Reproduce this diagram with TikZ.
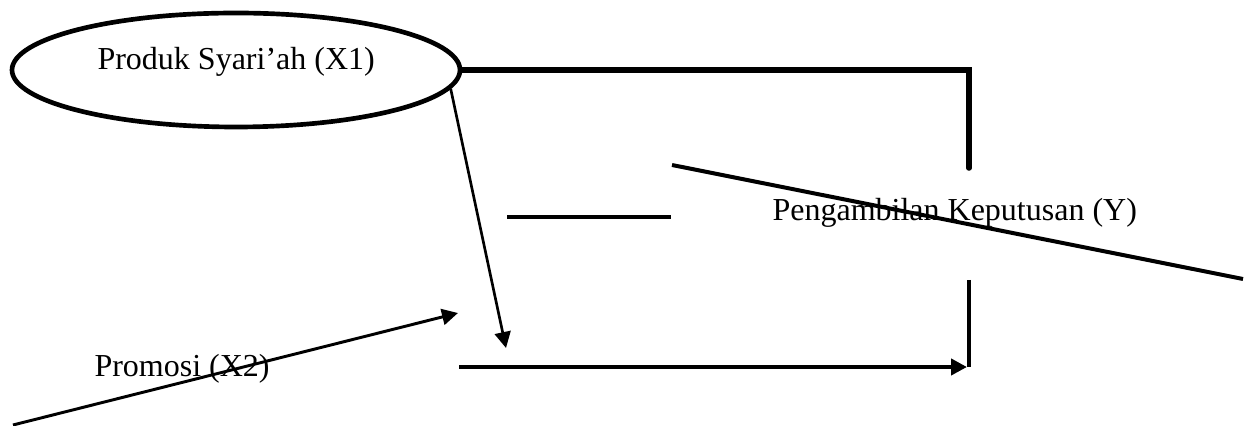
\documentclass[tikz,border=0pt]{standalone}
\usepackage{fontspec}
\setmainfont{Liberation Serif}
\usetikzlibrary{arrows.meta,shapes.geometric}

\begin{document}
\begin{tikzpicture}[x=0.375pt,y=-0.375pt,
  varnode/.style={draw,ellipse,line width=1.75pt,minimum width=168pt,minimum height=42.75pt,inner sep=0pt},
  lbl/.style={anchor=base west,font=\fontsize{12}{14}\selectfont,inner sep=0pt},
  boldline/.style={line width=2.1pt},
  midline/.style={line width=1.5pt},
  tipline/.style={-{Triangle[length=6pt,width=6pt]}}]
\useasboundingbox (0,0) rectangle (1248,426);
\node[varnode] (x1) at (236,70) {};
\node[lbl] (x1lbl) at (97,70) {Produk Syari’ah (X1)};
\node[lbl] (x2lbl) at (94,377) {Promosi (X2)};
\node[lbl] (ylbl) at (772,221) {Pengambilan Keputusan (Y)};
\coordinate (ytop) at (969,168);
\coordinate (ybot) at (969,280);
\coordinate (ycorner) at (969,367);
\coordinate (arrowin) at (459,367);
\coordinate (arrowout) at (967,367);
\coordinate (dashA) at (507,217);
\coordinate (dashB) at (671,217);
\coordinate (slashA) at (672,165);
\coordinate (slashB) at (1243,279);
\coordinate (x1end) at (506,348);
\coordinate (x2start) at (13,425);
\coordinate (x2end) at (458,313);
\draw[boldline,line cap=round] (x1.east) -| (ytop);
\draw[midline] (dashA) -- (dashB);
\draw[midline] (slashA) -- (slashB);
\draw[line width=1.25pt] (ybot) -- (ycorner);
\draw[midline,tipline] (arrowin) -- (arrowout);
\draw[line width=1pt,tipline] (x1.-5) -- (x1end);
\draw[line width=1.1pt,tipline] (x2start) -- (x2end);
\end{tikzpicture}
\end{document}
